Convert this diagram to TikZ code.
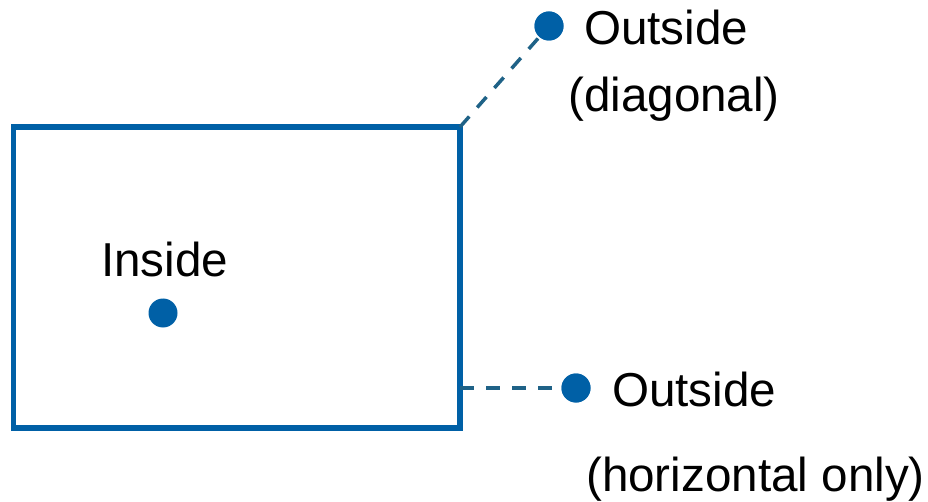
\documentclass[tikz,border=0pt]{standalone}
\usepackage{fontspec}
\setmainfont{Liberation Sans}
\definecolor{boxblue}{HTML}{0060A6}
\definecolor{linkteal}{HTML}{1F6287}
\begin{document}
\begin{tikzpicture}[x=1pt,y=-1pt,
  region/.style={draw=boxblue,line width=5.5pt},
  pt/.style={circle,fill=boxblue,inner sep=0pt,minimum size=29pt},
  link/.style={draw=linkteal,line width=3.5pt,dash pattern=on 14pt off 12pt},
  lbl/.style={anchor=base west,inner sep=0pt,font=\fontsize{47.6}{56}\selectfont}]
\useasboundingbox (0,0) rectangle (928,502);
% the region
\draw[region] (13.5,127) rectangle (460,428);
\coordinate (corner) at (460,127);
\coordinate (edge) at (460,388);
% points
\node[pt] (inpt) at (163,313) {};
\node[pt] (diag) at (549,26) {};
\node[pt] (horz) at (576,388) {};
% dashed distance links
\draw[link] (corner) -- (diag.center);
\draw[link] (edge) -- (horz.center);
\node[pt] at (diag) {};
\node[pt] at (horz) {};
% labels
\node[lbl] (tin) at (101,277) {Inside};
\node[lbl] (tdiag1) at (584,45) {Outside};
\node[lbl] (tdiag2) at (568,112) {(diagonal)};
\node[lbl] (thorz1) at (612,406) {Outside};
\node[lbl] (thorz2) at (586,491) {(horizontal only)};
\end{tikzpicture}
\end{document}
